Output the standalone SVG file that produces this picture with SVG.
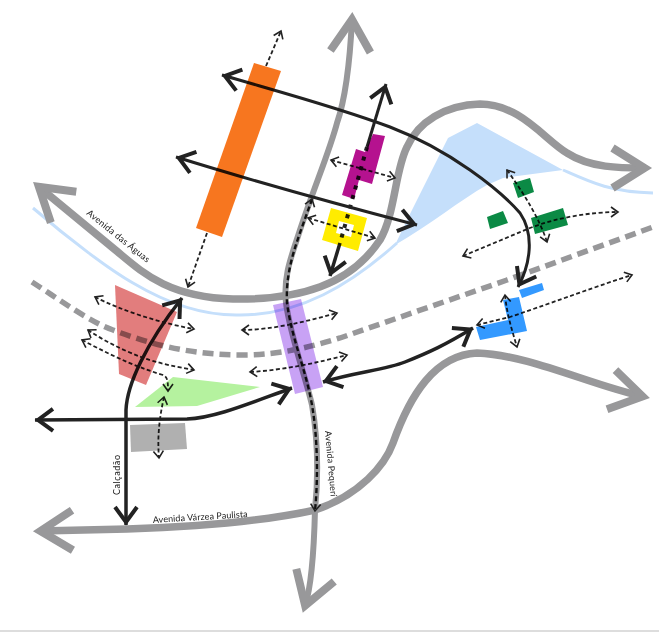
<svg xmlns="http://www.w3.org/2000/svg" width="659" height="632" viewBox="0 0 659 632">
<style>
.road{fill:none;stroke:#98989a;stroke-width:7.5;marker-start:url(#rh);marker-end:url(#rh)}
.rail{fill:none;stroke:#98989a;stroke-width:5.5;stroke-dasharray:11 6}
.water{fill:none;stroke:#c5dffb;stroke-width:3}
.flow{fill:none;stroke:#222;stroke-width:3.5}
.dash{fill:none;stroke:#222;stroke-width:1.8;stroke-dasharray:4 2.5}
.both{marker-start:url(#sh);marker-end:url(#sh)}
.bothb{marker-start:url(#bh);marker-end:url(#bh)}
.n{mix-blend-mode:multiply}
text{font-family:"Lato","Liberation Sans",sans-serif;font-size:9px;fill:#222}
</style>
<defs>
<marker id="rh" markerUnits="userSpaceOnUse" orient="auto-start-reverse" viewBox="0 0 60 60" refX="44.5" refY="30" markerWidth="60" markerHeight="60"><path d="M12,10 L44,30 L12,50" fill="none" stroke="#98989a" stroke-width="8"/></marker>
<marker id="bh" markerUnits="userSpaceOnUse" orient="auto-start-reverse" viewBox="0 0 34 30" refX="29" refY="15" markerWidth="34" markerHeight="30"><path d="M11,4 L26,15 L11,26" fill="none" stroke="#222" stroke-width="4"/></marker>
<marker id="sh" markerUnits="userSpaceOnUse" orient="auto-start-reverse" viewBox="0 0 14 14" refX="11" refY="7" markerWidth="14" markerHeight="14"><path d="M4,2 L11,7 L4,12" fill="none" stroke="#222" stroke-width="1.6"/></marker>
</defs>
<rect width="659" height="632" fill="#fff"/>
<rect y="630" width="659" height="2" fill="#ddd"/>
<g id="water">
<path class="water" d="M33,208 C70,240 110,270 133,283 C165,302 200,316 240,315 C300,315 350,285 397,243"/>
<path class="water" d="M563,170 C590,182 610,192 653,193"/>
<path d="M477,123 L448,138 L410,214 L395,245 C430,225 460,200 487,185 L503,178 L563,170 Z" fill="#c5dffb"/>
</g>
<g id="connectors">
<path class="rail" d="M32,282 C60,300 90,322 113,330 C160,348 200,355 243,355 C280,355 310,347 340,338 L507,280 L653,227"/>
<path class="road" d="M38.5,186.5 L113,248 C140,270 165,297 233,299 C300,300 350,285 380,240 C395,215 395,170 407,147 C418,122 445,105 480,104 C520,104 545,140 567,153 C590,168 620,168 645,168"/>
<path class="road" style="stroke-width:6" d="M352,19 C350,60 345,100 337,123 C330,150 315,185 300,230 C292,255 283,275 286,303 C290,335 305,375 312,405 C318,440 318,480 315,510 C314,550 312,585 305,606"/>
<path class="road" d="M40,531 L127,529 C190,527 260,522 315,510 C360,495 385,465 393,443 C410,395 435,355 477,353 C530,355 590,385 643,396.5"/>
<path class="flow bothb" style="stroke-width:3" d="M222,75 C280,92 340,108 390,127 C450,150 500,190 520,213 C535,235 530,265 518,287"/>
<path class="flow" style="stroke-width:3;marker-start:url(#bh);marker-end:url(#bh)" d="M176,157 C250,180 340,205 417,225"/>
<path class="flow" style="stroke-width:3;marker-end:url(#bh)" d="M367,147 L386,84"/>
<path d="M367,147 L340,243" fill="none" stroke="#222" stroke-width="4" stroke-dasharray="4 6"/>
<path class="flow" style="marker-end:url(#bh)" d="M340,243 L330,276"/>
<path class="flow bothb" d="M35,420 L187,419 C215,418 250,403 292,388"/>
<path class="flow bothb" d="M126,525 L126,410 C127,385 145,345 182,298"/>
<path class="flow bothb" d="M323,382 C355,372 385,370 405,362 C430,352 445,345 473,328"/>
<path class="dash" style="marker-end:url(#sh)" d="M266,66 L281,31"/>
<path class="dash" style="marker-end:url(#sh)" d="M207,233 L188,287"/>
<path class="dash both" d="M95,297 C120,310 160,323 194,329"/>
<path class="dash both" d="M88,330 C110,345 140,358 157,362 C170,366 185,368 194,370"/>
<path class="dash both" d="M82,340 C105,352 130,365 163,375 C168,377 168,383 168,391"/>
<path class="dash both" d="M164,397 C160,415 157,435 159,458"/>
<path class="dash both" d="M242,330 C270,330 305,322 337,313"/>
<path class="dash both" d="M250,372 C285,370 320,362 347,355"/>
<path class="dash both" style="stroke-width:2.4;stroke-dasharray:5 3;stroke:#111" d="M312,199 C300,235 285,265 287,303 C292,340 306,370 312,405 C318,440 318,480 315,511"/>
<path class="dash both" d="M308,218 L375,238"/>
<path class="dash both" d="M331,160 L395,178"/>
<path class="dash both" d="M507,170 C525,195 540,220 547,242"/>
<path class="dash both" d="M463,256 L530,228 C555,218 590,212 618,212"/>
<path class="dash both" d="M477,325 L510,317 C560,300 600,285 632,275"/>
<path class="dash both" d="M505,295 C507,315 512,330 517,347"/>
</g>
<g id="node-orange"><polygon class="n" points="254,63 281,71 222,237 196,228" fill="#f7761f"/></g>
<g id="node-magenta"><polygon class="n" points="373,134 385,136 372,184 359,180 354,199 342,195 356,149 365,152" fill="#b5128f"/></g>
<g id="node-yellow"><path class="n" fill-rule="evenodd" d="M331,208 L367,218 L358,251 L322,240 Z M339,221 L354,225 L351,237 L336,233 Z" fill="#ffec00"/></g>
<g id="node-green"><polygon class="n" points="513,183 530,178 534,192 518,198" fill="#0b8a45"/><polygon class="n" points="487,217 503,211 508,223 490,229" fill="#0b8a45"/><polygon class="n" points="531,218 563,208 568,225 535,234" fill="#0b8a45"/></g>
<g id="node-blue"><polygon class="n" points="519,297 527,331 480,340 476,327 508,320 503,300" fill="#3399ff"/><polygon class="n" points="519,290 542,283 544,290 522,298" fill="#3399ff"/></g>
<g id="node-purple"><polygon class="n" points="273,305 301,299 323,387 295,394" fill="#c8a2f5"/></g>
<g id="node-red"><polygon class="n" points="115,285 177,312 146,385 119,374" fill="#e27d7d"/></g>
<g id="node-lime"><polygon class="n" points="173,377 260,387 197,406 135,407" fill="#b5f29f"/></g>
<g id="node-grey"><polygon class="n" points="130,425 185,423 187,449 131,452" fill="#b0b0b0"/></g>
<g id="labels">
<text transform="translate(86,214) rotate(38.8)" textLength="78" lengthAdjust="spacing">Avenida das Águas</text>
<text transform="translate(153,523) rotate(-3.6)" textLength="95" lengthAdjust="spacing">Avenida Várzea Paulista</text>
<text transform="translate(120,495) rotate(-90)" textLength="40" lengthAdjust="spacing">Calçadão</text>
<text transform="translate(325,431) rotate(85)" textLength="66" lengthAdjust="spacing">Avenida Pequerí</text>
</g>
</svg>
